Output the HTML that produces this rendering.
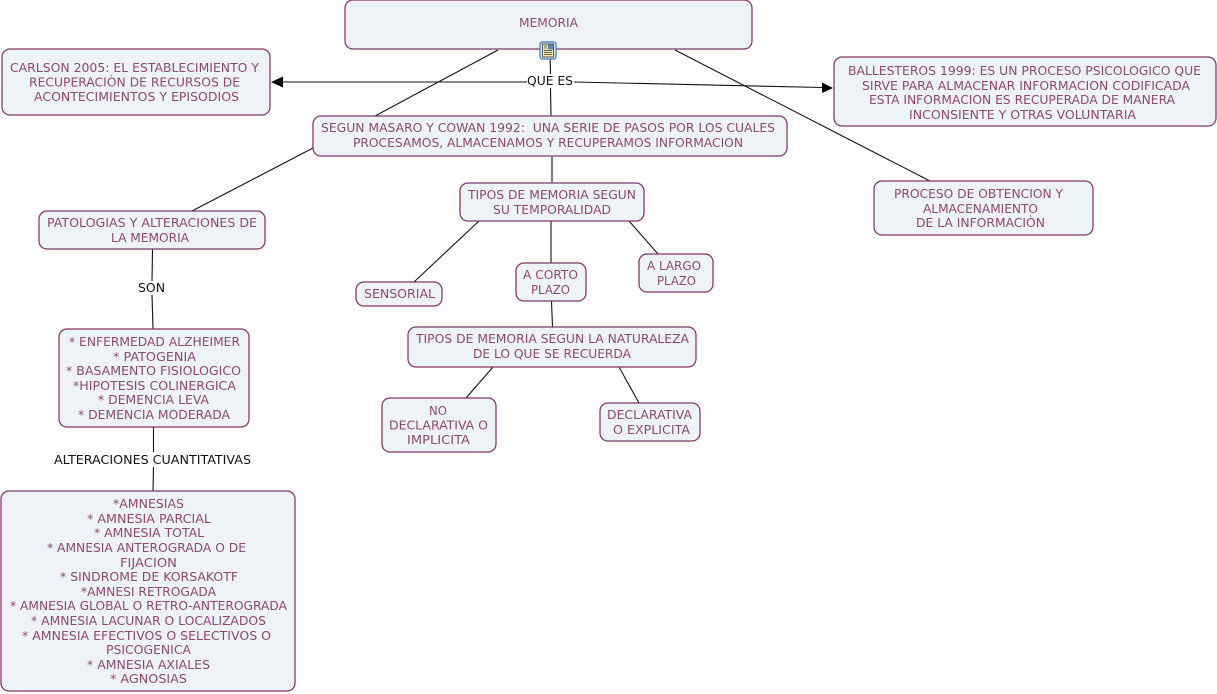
<!DOCTYPE html>
<html><head><meta charset="utf-8"><style>
html,body{margin:0;padding:0;background:#fff;width:1217px;height:694px;overflow:hidden}
svg{display:block}
text{font-family:"DejaVu Sans","Liberation Sans",sans-serif;font-size:12.4px}
.n text,text.t{fill:#914675}
text.l{fill:#111}
rect.b{fill:#edf3f6;stroke:#823468;stroke-width:1.25}
line{stroke:#111;stroke-width:1.1}
</style></head><body>
<svg width="1217" height="694" viewBox="0 0 1217 694" xmlns="http://www.w3.org/2000/svg">
<g>
<line x1="498" y1="50" x2="375" y2="116"/>
<line x1="313" y1="148" x2="192" y2="211"/>
<line x1="675" y1="50" x2="930" y2="181"/>
<line x1="550" y1="50" x2="550.5" y2="74"/>
<line x1="550.5" y1="88" x2="551" y2="116"/>
<line x1="552" y1="156" x2="552" y2="183"/>
<line x1="527" y1="82" x2="282" y2="82"/>
<line x1="574" y1="82" x2="823" y2="87.5"/>
<line x1="479" y1="221" x2="414" y2="282"/>
<line x1="551" y1="221" x2="551" y2="263"/>
<line x1="629" y1="221" x2="658" y2="254"/>
<line x1="551.5" y1="301" x2="552.5" y2="327"/>
<line x1="493" y1="367" x2="466" y2="398"/>
<line x1="619" y1="367" x2="639" y2="403"/>
<line x1="152.500" y1="249" x2="152" y2="281"/>
<line x1="152" y1="295" x2="153" y2="329"/>
<line x1="153.500" y1="427" x2="153.500" y2="452"/>
<line x1="153.500" y1="467" x2="153" y2="491"/>
<polygon points="271,82 283,76.500 283,87.500" fill="#000"/>
<polygon points="833,88 822,82.500 822,93" fill="#000"/>
</g>
<g class="n">
<rect class="b" x="345" y="0" width="407" height="49" rx="8"/>
<text x="519" y="27" textLength="59" lengthAdjust="spacingAndGlyphs">MEMORIA</text>

<rect class="b" x="2" y="49" width="268" height="66" rx="8"/>
<text x="10" y="72" textLength="249" lengthAdjust="spacingAndGlyphs">CARLSON 2005: EL ESTABLECIMIENTO Y</text>
<text x="29" y="86.500" textLength="211" lengthAdjust="spacingAndGlyphs">RECUPERACIÒN DE RECURSOS DE</text>
<text x="34" y="101" textLength="205" lengthAdjust="spacingAndGlyphs">ACONTECIMIENTOS Y EPISODIOS</text>

<rect class="b" x="834" y="57" width="382" height="69" rx="8"/>
<text x="848" y="75" textLength="353" lengthAdjust="spacingAndGlyphs">BALLESTEROS 1999: ES UN PROCESO PSICOLOGICO QUE</text>
<text x="862" y="90" textLength="328" lengthAdjust="spacingAndGlyphs">SIRVE PARA ALMACENAR INFORMACION CODIFICADA</text>
<text x="869" y="104" textLength="306" lengthAdjust="spacingAndGlyphs">ESTA INFORMACION ES RECUPERADA DE MANERA</text>
<text x="909" y="119" textLength="227" lengthAdjust="spacingAndGlyphs">INCONSIENTE Y OTRAS VOLUNTARIA</text>

<rect class="b" x="313" y="116" width="474" height="40" rx="8"/>
<text x="321" y="132" textLength="454" lengthAdjust="spacingAndGlyphs" xml:space="preserve">SEGUN MASARO Y COWAN 1992:  UNA SERIE DE PASOS POR LOS CUALES</text>
<text x="353" y="147" textLength="390" lengthAdjust="spacingAndGlyphs">PROCESAMOS, ALMACENAMOS Y RECUPERAMOS INFORMACION</text>

<rect class="b" x="874" y="181" width="219" height="54" rx="8"/>
<text x="894" y="198" textLength="169" lengthAdjust="spacingAndGlyphs">PROCESO DE OBTENCION Y</text>
<text x="923" y="213" textLength="115" lengthAdjust="spacingAndGlyphs">ALMACENAMIENTO</text>
<text x="916" y="227" textLength="129" lengthAdjust="spacingAndGlyphs">DE LA INFORMACIÒN</text>

<rect class="b" x="460" y="183" width="184" height="38" rx="8"/>
<text x="468" y="199" textLength="168" lengthAdjust="spacingAndGlyphs">TIPOS DE MEMORIA SEGUN</text>
<text x="493" y="214" textLength="118" lengthAdjust="spacingAndGlyphs">SU TEMPORALIDAD</text>

<rect class="b" x="39" y="211" width="226" height="38" rx="8"/>
<text x="47" y="227" textLength="210" lengthAdjust="spacingAndGlyphs">PATOLOGIAS Y ALTERACIONES DE</text>
<text x="111" y="242" textLength="78" lengthAdjust="spacingAndGlyphs">LA MEMORIA</text>

<rect class="b" x="356" y="282" width="86" height="24" rx="8"/>
<text x="364" y="298" textLength="71" lengthAdjust="spacingAndGlyphs">SENSORIAL</text>

<rect class="b" x="516" y="263" width="70" height="38" rx="8"/>
<text x="523" y="279" textLength="55" lengthAdjust="spacingAndGlyphs">A CORTO</text>
<text x="531" y="294" textLength="39" lengthAdjust="spacingAndGlyphs">PLAZO</text>

<rect class="b" x="639" y="254" width="74" height="38" rx="8"/>
<text x="647" y="270" textLength="54" lengthAdjust="spacingAndGlyphs">A LARGO</text>
<text x="657" y="285" textLength="39" lengthAdjust="spacingAndGlyphs">PLAZO</text>

<rect class="b" x="408" y="327" width="288" height="40" rx="8"/>
<text x="416" y="343" textLength="273" lengthAdjust="spacingAndGlyphs">TIPOS DE MEMORIA SEGUN LA NATURALEZA</text>
<text x="473" y="358" textLength="158" lengthAdjust="spacingAndGlyphs">DE LO QUE SE RECUERDA</text>

<rect class="b" x="382" y="398" width="114" height="54" rx="8"/>
<text x="429" y="415" textLength="18" lengthAdjust="spacingAndGlyphs">NO</text>
<text x="389" y="429.500" textLength="99" lengthAdjust="spacingAndGlyphs">DECLARATIVA O</text>
<text x="407" y="444" textLength="63" lengthAdjust="spacingAndGlyphs">IMPLICITA</text>

<rect class="b" x="600" y="403" width="100" height="38" rx="8"/>
<text x="607" y="419" textLength="85" lengthAdjust="spacingAndGlyphs">DECLARATIVA</text>
<text x="613" y="434" textLength="77" lengthAdjust="spacingAndGlyphs">O EXPLICITA</text>

<rect class="b" x="59" y="329" width="190" height="98" rx="8"/>
<text x="69" y="346" textLength="171" lengthAdjust="spacingAndGlyphs">* ENFERMEDAD ALZHEIMER</text>
<text x="113" y="361" textLength="83" lengthAdjust="spacingAndGlyphs">* PATOGENIA</text>
<text x="66" y="375" textLength="175" lengthAdjust="spacingAndGlyphs">* BASAMENTO FISIOLOGICO</text>
<text x="73" y="390" textLength="163" lengthAdjust="spacingAndGlyphs">*HIPOTESIS COLINERGICA</text>
<text x="98" y="404" textLength="111" lengthAdjust="spacingAndGlyphs">* DEMENCIA LEVA</text>
<text x="78" y="419" textLength="152" lengthAdjust="spacingAndGlyphs">* DEMENCIA MODERADA</text>

<rect class="b" x="1" y="491" width="294" height="200" rx="8"/>
<text x="113" y="508" textLength="71" lengthAdjust="spacingAndGlyphs">*AMNESIAS</text>
<text x="87" y="523" textLength="124" lengthAdjust="spacingAndGlyphs">* AMNESIA PARCIAL</text>
<text x="94" y="537" textLength="110" lengthAdjust="spacingAndGlyphs">* AMNESIA TOTAL</text>
<text x="47" y="552" textLength="199" lengthAdjust="spacingAndGlyphs">* AMNESIA ANTEROGRADA O DE</text>
<text x="120" y="567" textLength="57" lengthAdjust="spacingAndGlyphs">FIJACION</text>
<text x="60" y="581" textLength="178" lengthAdjust="spacingAndGlyphs">* SINDROME DE KORSAKOTF</text>
<text x="81" y="596" textLength="135" lengthAdjust="spacingAndGlyphs">*AMNESI RETROGADA</text>
<text x="10" y="610" textLength="277" lengthAdjust="spacingAndGlyphs">* AMNESIA GLOBAL O RETRO-ANTEROGRADA</text>
<text x="31" y="625" textLength="235" lengthAdjust="spacingAndGlyphs">* AMNESIA LACUNAR O LOCALIZADOS</text>
<text x="22" y="640" textLength="249" lengthAdjust="spacingAndGlyphs">* AMNESIA EFECTIVOS O SELECTIVOS O</text>
<text x="106" y="654" textLength="85" lengthAdjust="spacingAndGlyphs">PSICOGENICA</text>
<text x="87" y="669" textLength="123" lengthAdjust="spacingAndGlyphs">* AMNESIA AXIALES</text>
<text x="110" y="683" textLength="77" lengthAdjust="spacingAndGlyphs">* AGNOSIAS</text>
</g>
<text class="l" x="527" y="85" textLength="46" lengthAdjust="spacingAndGlyphs">QUE ES</text>
<text class="l" x="138" y="292" textLength="27" lengthAdjust="spacingAndGlyphs">SON</text>
<text class="l" x="54" y="464" textLength="197" lengthAdjust="spacingAndGlyphs">ALTERACIONES CUANTITATIVAS</text>
<g>
<rect x="540" y="42" width="16" height="17" rx="2.500" fill="#dbe9f7" stroke="#3a78c8" stroke-width="1.2"/>
<rect x="542.500" y="44" width="11" height="13" fill="#f5edb0" stroke="#333" stroke-width=".8"/>
<rect x="548" y="44.500" width="5" height="5" fill="#5a86b0"/>
<path d="M544 46h3M544 48h3M544 50.500h8M544 52.500h8M544 54.500h8" stroke="#333" stroke-width=".8" fill="none"/>
</g>
</svg>
</body></html>
